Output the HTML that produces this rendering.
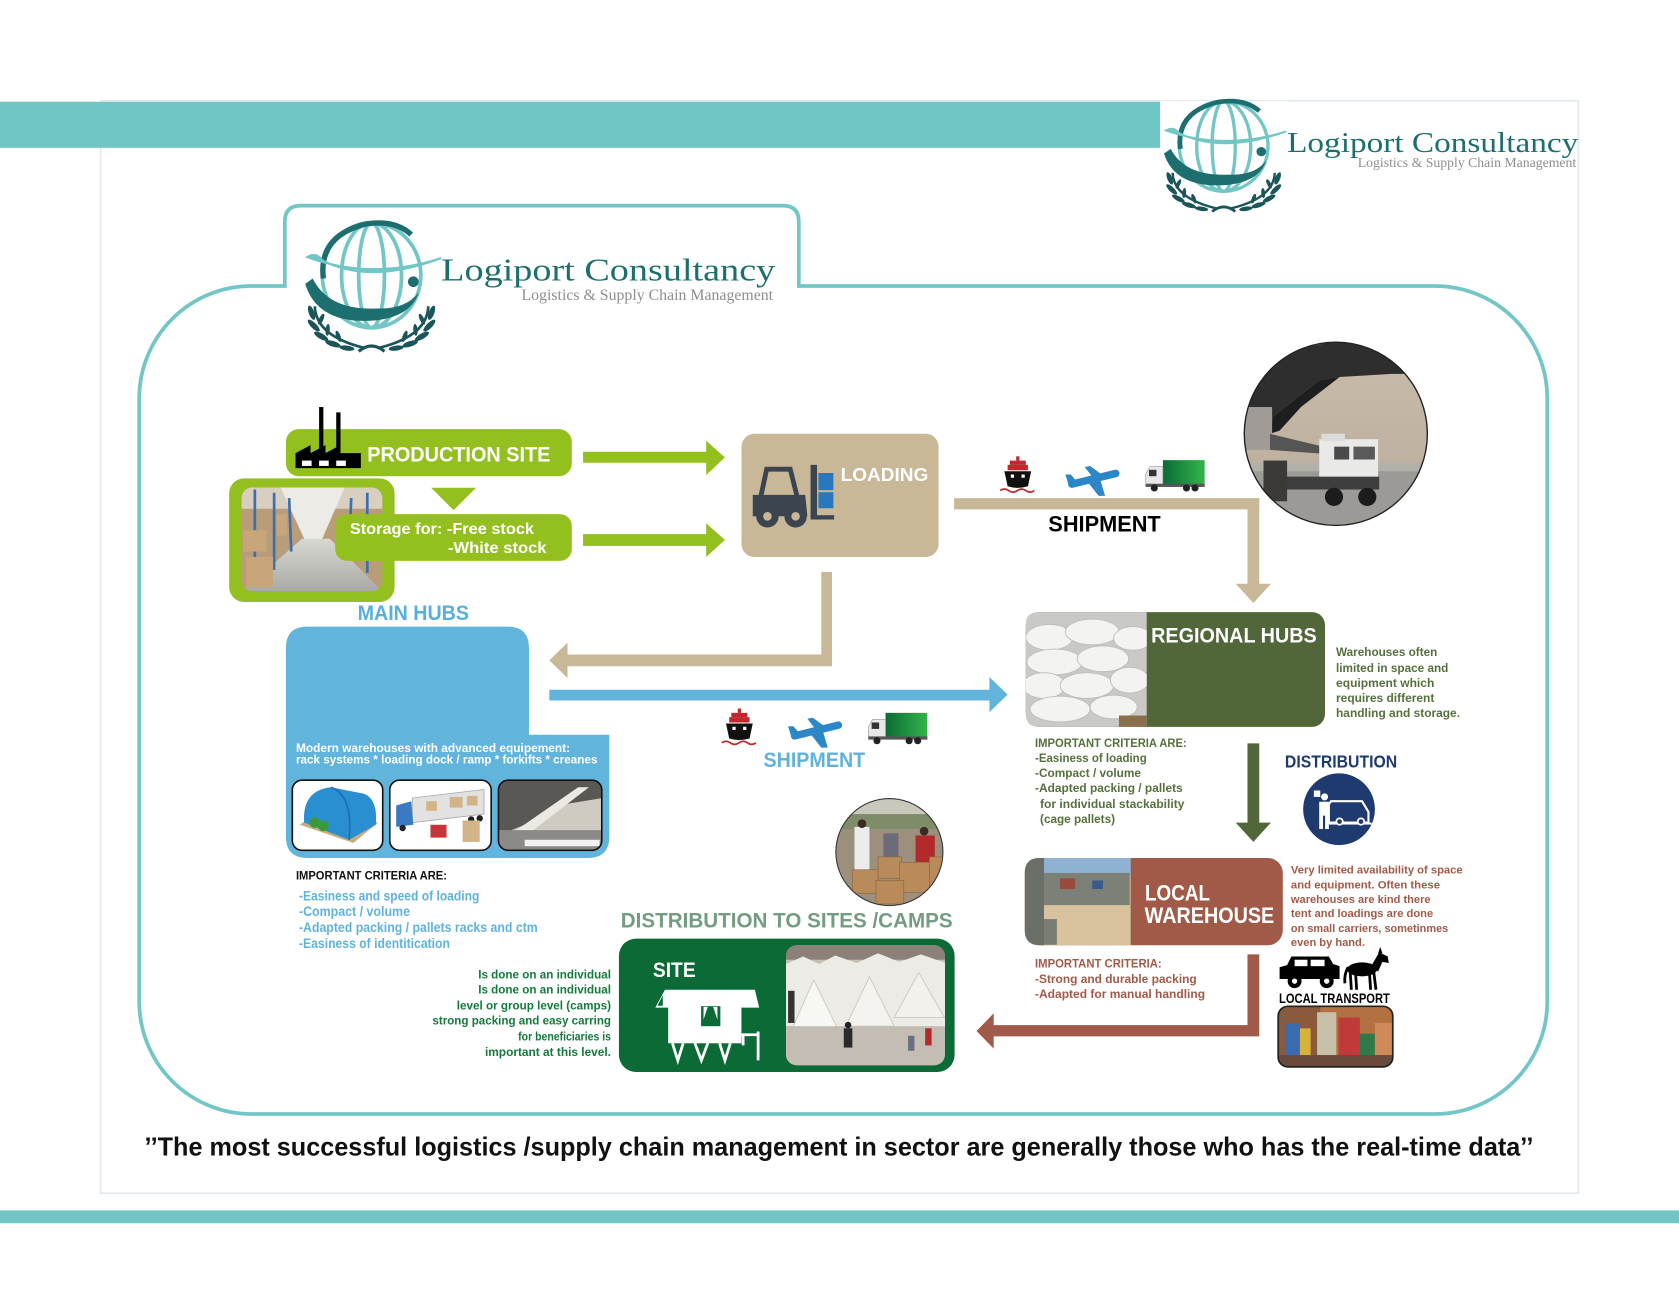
<!DOCTYPE html>
<html><head><meta charset="utf-8">
<style>
html,body{margin:0;padding:0;background:#fff;width:1679px;height:1295px;overflow:hidden}
svg{display:block}
text{font-family:"Liberation Sans",sans-serif;font-weight:bold}
text.serif{font-family:"Liberation Serif",serif;font-weight:normal}
</style></head><body>
<svg width="1679" height="1295" viewBox="0 0 1568 1209" preserveAspectRatio="none" xmlns="http://www.w3.org/2000/svg">
<defs>
 <clipPath id="cStore"><rect x="225.6" y="455" width="131.4" height="97" rx="10"/></clipPath>
 <clipPath id="cAir"><circle cx="1247.5" cy="405" r="85.5"/></clipPath>
 <clipPath id="cSacks"><path d="M970,571.5 L1071,571.5 L1071,678.6 L970,678.6 Q958,678.6 958,666.6 L958,583.5 Q958,571.5 970,571.5 Z"/></clipPath>
 <clipPath id="cLocal"><path d="M971,801 L1056,801 L1056,882.5 L971,882.5 Q957,882.5 957,868.5 L957,815 Q957,801 971,801 Z"/></clipPath>
 <clipPath id="cCamp"><rect x="734" y="882.5" width="148.5" height="112" rx="10"/></clipPath>
 <clipPath id="cDist"><circle cx="830.6" cy="795.5" r="50"/></clipPath>
 <clipPath id="cTrans"><rect x="1193.7" y="939.5" width="107" height="56.5" rx="9"/></clipPath>
 <clipPath id="cB3"><rect x="465.5" y="728.4" width="96.5" height="65.4" rx="9"/></clipPath>
 <linearGradient id="gTruck" x1="0" y1="0" x2="1" y2="0"><stop offset="0" stop-color="#0b6b35"/><stop offset="1" stop-color="#33b54a"/></linearGradient>
 <linearGradient id="gFloor" x1="0" y1="0" x2="0" y2="1"><stop offset="0" stop-color="#d8d8d2"/><stop offset="1" stop-color="#a9aaa5"/></linearGradient>
 <linearGradient id="gSky" x1="0" y1="0" x2="0" y2="1"><stop offset="0" stop-color="#c9bcab"/><stop offset="1" stop-color="#b9ab99"/></linearGradient>
</defs>

<!-- page frame -->
<rect x="94" y="94" width="1380" height="1020" fill="none" stroke="#dfe7ef" stroke-width="1.5"/>
<rect x="0" y="95" width="1092" height="43" fill="#71c5c5"/>
<rect x="0" y="1130" width="1568" height="12" fill="#71c5c5"/>

<!-- top right logo -->
<g transform="translate(1087,96) scale(0.9,0.86)">
 <rect x="-4" y="-2" width="134" height="120" fill="#fff"/>
 <g fill="none" stroke="#72c6c6" stroke-width="3.5">
  <ellipse cx="62" cy="47" rx="46" ry="49"/>
  <ellipse cx="62" cy="47" rx="28" ry="49"/>
  <ellipse cx="62" cy="47" rx="12" ry="49"/>
 </g>
 <path d="M17,50 Q12,10 57,-1 Q84,-5 99,9" fill="none" stroke="#1d6e6e" stroke-width="5"/>
 <path d="M2,30 Q10,25 16,33 Q60,56 127,31 Q62,52 2,30 Z" fill="#72c6c6" stroke="#72c6c6" stroke-width="2"/>
 <path d="M0,55 Q12,94 67,89 Q99,85 106,63 Q94,79 67,78 Q22,80 7,50 Z" fill="#1d6e6e"/>
 <circle cx="101" cy="53" r="5" fill="#1d6e6e"/>
 <g fill="#1a5559">
  <path d="M9,76 Q10,104 56,115" fill="none" stroke="#1a5559" stroke-width="2.5"/>
  <path d="M115,76 Q114,104 68,115" fill="none" stroke="#1a5559" stroke-width="2.5"/>
  <ellipse cx="6" cy="82" rx="2.6" ry="7" transform="rotate(-20 6 82)"/>
  <ellipse cx="8" cy="94" rx="2.6" ry="7.5" transform="rotate(-45 8 94)"/>
  <ellipse cx="15" cy="104" rx="2.6" ry="7.5" transform="rotate(-60 15 104)"/>
  <ellipse cx="26" cy="111" rx="2.6" ry="7.5" transform="rotate(-72 26 111)"/>
  <ellipse cx="39" cy="115" rx="2.4" ry="7" transform="rotate(-82 39 115)"/>
  <ellipse cx="15" cy="88" rx="2" ry="5.5" transform="rotate(25 15 88)"/>
  <ellipse cx="21" cy="98" rx="2" ry="5.5" transform="rotate(5 21 98)"/>
  <ellipse cx="31" cy="104" rx="2" ry="5.5" transform="rotate(-20 31 104)"/>
  <ellipse cx="118" cy="82" rx="2.6" ry="7" transform="rotate(20 118 82)"/>
  <ellipse cx="116" cy="94" rx="2.6" ry="7.5" transform="rotate(45 116 94)"/>
  <ellipse cx="109" cy="104" rx="2.6" ry="7.5" transform="rotate(60 109 104)"/>
  <ellipse cx="98" cy="111" rx="2.6" ry="7.5" transform="rotate(72 98 111)"/>
  <ellipse cx="85" cy="115" rx="2.4" ry="7" transform="rotate(82 85 115)"/>
  <ellipse cx="109" cy="88" rx="2" ry="5.5" transform="rotate(-25 109 88)"/>
  <ellipse cx="103" cy="98" rx="2" ry="5.5" transform="rotate(-5 103 98)"/>
  <ellipse cx="93" cy="104" rx="2" ry="5.5" transform="rotate(20 93 104)"/>
  <path d="M50,118 Q62,108 74,118" fill="none" stroke="#1a5559" stroke-width="3"/>
 </g>
</g>
<text class="serif" x="1202" y="142" font-size="27" fill="#1d6f6f" textLength="272" lengthAdjust="spacingAndGlyphs">Logiport Consultancy</text>
<text class="serif" x="1268" y="156" font-size="12.5" fill="#8e8e8e" textLength="204" lengthAdjust="spacingAndGlyphs">Logistics &amp; Supply Chain Management</text>

<!-- main container -->
<path d="M130,372 A105,105 0 0 1 235,267 L266,267 L266,207 Q266,192 281,192 L731,192 Q746,192 746,207 L746,267 L1340,267 A105,105 0 0 1 1445,372 L1445,935 A105,105 0 0 1 1340,1040 L235,1040 A105,105 0 0 1 130,935 Z" fill="#fff" stroke="#72c6c6" stroke-width="3.5"/>

<!-- inner logo -->
<g transform="translate(285,210)">
 <g fill="none" stroke="#72c6c6" stroke-width="3.5">
  <ellipse cx="62" cy="47" rx="46" ry="49"/>
  <ellipse cx="62" cy="47" rx="28" ry="49"/>
  <ellipse cx="62" cy="47" rx="12" ry="49"/>
 </g>
 <path d="M17,50 Q12,10 57,-1 Q84,-5 99,9" fill="none" stroke="#1d6e6e" stroke-width="5"/>
 <path d="M2,30 Q10,25 16,33 Q60,56 127,31 Q62,52 2,30 Z" fill="#72c6c6" stroke="#72c6c6" stroke-width="2"/>
 <path d="M0,55 Q12,94 67,89 Q99,85 106,63 Q94,79 67,78 Q22,80 7,50 Z" fill="#1d6e6e"/>
 <circle cx="101" cy="53" r="5" fill="#1d6e6e"/>
 <g fill="#1a5559">
  <path d="M9,76 Q10,104 56,115" fill="none" stroke="#1a5559" stroke-width="2.5"/>
  <path d="M115,76 Q114,104 68,115" fill="none" stroke="#1a5559" stroke-width="2.5"/>
  <ellipse cx="6" cy="82" rx="2.6" ry="7" transform="rotate(-20 6 82)"/>
  <ellipse cx="8" cy="94" rx="2.6" ry="7.5" transform="rotate(-45 8 94)"/>
  <ellipse cx="15" cy="104" rx="2.6" ry="7.5" transform="rotate(-60 15 104)"/>
  <ellipse cx="26" cy="111" rx="2.6" ry="7.5" transform="rotate(-72 26 111)"/>
  <ellipse cx="39" cy="115" rx="2.4" ry="7" transform="rotate(-82 39 115)"/>
  <ellipse cx="15" cy="88" rx="2" ry="5.5" transform="rotate(25 15 88)"/>
  <ellipse cx="21" cy="98" rx="2" ry="5.5" transform="rotate(5 21 98)"/>
  <ellipse cx="31" cy="104" rx="2" ry="5.5" transform="rotate(-20 31 104)"/>
  <ellipse cx="118" cy="82" rx="2.6" ry="7" transform="rotate(20 118 82)"/>
  <ellipse cx="116" cy="94" rx="2.6" ry="7.5" transform="rotate(45 116 94)"/>
  <ellipse cx="109" cy="104" rx="2.6" ry="7.5" transform="rotate(60 109 104)"/>
  <ellipse cx="98" cy="111" rx="2.6" ry="7.5" transform="rotate(72 98 111)"/>
  <ellipse cx="85" cy="115" rx="2.4" ry="7" transform="rotate(82 85 115)"/>
  <ellipse cx="109" cy="88" rx="2" ry="5.5" transform="rotate(-25 109 88)"/>
  <ellipse cx="103" cy="98" rx="2" ry="5.5" transform="rotate(-5 103 98)"/>
  <ellipse cx="93" cy="104" rx="2" ry="5.5" transform="rotate(20 93 104)"/>
  <path d="M50,118 Q62,108 74,118" fill="none" stroke="#1a5559" stroke-width="3"/>
 </g>
</g>
<text class="serif" x="412" y="262" font-size="30" fill="#1d6f6f" textLength="312" lengthAdjust="spacingAndGlyphs">Logiport Consultancy</text>
<text class="serif" x="487" y="280" font-size="14.5" fill="#8e8e8e" textLength="235" lengthAdjust="spacingAndGlyphs">Logistics &amp; Supply Chain Management</text>

<!-- PRODUCTION SITE -->
<rect x="267" y="400.6" width="267" height="44" rx="12" fill="#93c01f"/>
<g fill="#000">
 <rect x="298" y="380" width="4" height="40"/>
 <rect x="314" y="385" width="4" height="35"/>
 <path d="M276,437 L276,423 L290,415.6 L290,423 L304,415.6 L304,423 L318,415.6 L318,423 L337,423 L337,437 Z"/>
</g>
<g fill="#fff"><rect x="282" y="430" width="9" height="5"/><rect x="298" y="430" width="9" height="5"/><rect x="314" y="430" width="9" height="5"/></g>
<text x="343" y="431" font-size="19.5" fill="#fff" textLength="171" lengthAdjust="spacingAndGlyphs">PRODUCTION SITE</text>
<polygon points="402.6,455.4 444.6,455.4 423.6,476.3" fill="#93c01f"/>

<!-- storage photo -->
<rect x="214" y="446.6" width="154.5" height="115.4" rx="14" fill="#93c01f"/>
<g clip-path="url(#cStore)">
 <rect x="225" y="455" width="133" height="98" fill="#b99c78"/>
 <rect x="225" y="455" width="133" height="20" fill="#d9cfc0"/>
 <polygon points="262,455 322,455 300,505 285,505" fill="#ecebe6"/>
 <polygon points="226,552 357,552 308,503 282,503" fill="url(#gFloor)"/>
 <g stroke="#3a6fb0" stroke-width="2.5"><line x1="238" y1="457" x2="238" y2="545"/><line x1="256" y1="460" x2="256" y2="532"/><line x1="270" y1="465" x2="272" y2="515"/><line x1="328" y1="465" x2="326" y2="515"/><line x1="343" y1="460" x2="343" y2="535"/></g>
 <g fill="#c8a679"><rect x="227" y="495" width="22" height="20"/><rect x="230" y="520" width="25" height="28"/><rect x="258" y="480" width="10" height="20"/><rect x="332" y="485" width="12" height="22"/></g>
</g>
<rect x="313" y="480" width="221" height="43.6" rx="11" fill="#93c01f"/>
<text x="326.7" y="498.7" font-size="15" fill="#fff" textLength="172" lengthAdjust="spacingAndGlyphs">Storage for: -Free stock</text>
<text x="418.4" y="516.5" font-size="15" fill="#fff" textLength="92" lengthAdjust="spacingAndGlyphs">-White stock</text>

<!-- green arrows -->
<polygon points="544.5,421.8 659.5,421.8 659.5,411.5 677,427 659.5,443.6 659.5,432 544.5,432" fill="#93c01f"/>
<polygon points="544.5,498.7 659.5,498.7 659.5,488.5 677,504 659.5,520 659.5,509.6 544.5,509.6" fill="#93c01f"/>

<!-- LOADING -->
<rect x="692.5" y="405" width="184" height="115" rx="12" fill="#c8b898"/>
<g fill="#3c4450">
 <path d="M710,466 L716,438 L738,438 L745,466" fill="none" stroke="#3c4450" stroke-width="4.5"/>
 <path d="M703,462 L752,462 L754,482 L703,482 Z"/>
 <rect x="757" y="434" width="6" height="50"/>
 <rect x="757" y="481" width="22" height="4"/>
 <circle cx="716.7" cy="482" r="10.5"/><circle cx="743" cy="482" r="10.5"/>
</g>
<circle cx="716.7" cy="482" r="4" fill="#c8b898"/><circle cx="743" cy="482" r="4" fill="#c8b898"/>
<rect x="764.3" y="441.6" width="14" height="16" fill="#2878c0"/>
<rect x="764.3" y="459.5" width="14" height="15" fill="#2878c0"/>
<text x="785" y="449.2" font-size="17.5" fill="#fff" textLength="82" lengthAdjust="spacingAndGlyphs">LOADING</text>

<!-- shipment (tan) arrow -->
<path d="M891,465 L1176,465 L1176,545 L1187,545 L1170.5,563 L1154,545 L1165,545 L1165,475.5 L891,475.5 Z" fill="#c8b898"/>
<!-- ship 1 -->
<g transform="translate(934,426)">
 <rect x="15" y="0" width="3" height="4" fill="#c1272d"/>
 <rect x="9" y="4" width="15" height="4" fill="#c1272d"/>
 <rect x="7" y="8" width="19" height="5" fill="#c1272d"/>
 <path d="M4,14 L29,14 L26,28 Q16,31 7,28 Z" fill="#111"/>
 <rect x="10" y="17" width="3" height="3" fill="#fff"/><rect x="20" y="17" width="3" height="3" fill="#fff"/>
 <path d="M0,32 q4,-3 8,0 q4,3 8,0 q4,-3 8,0 q4,3 8,0" fill="none" stroke="#c1272d" stroke-width="1.6"/>
</g>
<!-- plane 1 -->
<g transform="translate(995,435)" fill="#2b87c8">
 <line x1="6" y1="17" x2="47" y2="7" stroke="#2b87c8" stroke-width="7" stroke-linecap="round"/>
 <polygon points="20,14 31,28 37,28 32,11"/>
 <polygon points="25,10 18,1 23,0 34,8"/>
 <polygon points="3,18 0,8 5,8 11,15"/>
</g>
<!-- truck 1 -->
<g transform="translate(1070,429.6)">
 <rect x="16" y="0" width="39" height="24" fill="url(#gTruck)"/>
 <path d="M0,13 L4,6 L16,6 L16,24 L0,24 Z" fill="#e8e8e8" stroke="#999" stroke-width="0.6"/>
 <rect x="3" y="9" width="7" height="6" fill="#333"/>
 <rect x="0" y="22" width="55" height="3" fill="#555"/>
 <circle cx="8" cy="26" r="3.3" fill="#222"/><circle cx="38" cy="26" r="3.3" fill="#222"/><circle cx="46" cy="26" r="3.3" fill="#222"/>
</g>
<text x="979" y="496" font-size="21" fill="#000" textLength="105" lengthAdjust="spacingAndGlyphs">SHIPMENT</text>

<!-- airplane circle photo -->
<g clip-path="url(#cAir)">
 <rect x="1160" y="318" width="175" height="175" fill="url(#gSky)"/>
 <polygon points="1160,376 1176,345 1204,327 1251,318 1335,318 1335,349 1300,349 1251,352 1232,355 1189,389 1186,405 1160,410" fill="#2e2e2e"/>
 <polygon points="1186,405 1189,389 1232,355 1251,352 1215,380 1195,402" fill="#1e1e1e"/>
 <rect x="1162" y="380" width="26" height="40" fill="#a09c95"/>
 <polygon points="1186,405 1240,418 1240,424 1186,420" fill="#555"/>
 <rect x="1160" y="437" width="175" height="60" fill="#9c9a96"/>
 <rect x="1160" y="432" width="175" height="8" fill="#b3b0aa"/>
 <rect x="1232" y="410" width="55" height="45" fill="#e9e9e7"/>
 <rect x="1234" y="405" width="22" height="7" fill="#dcdcda"/>
 <rect x="1246" y="417" width="14" height="12" fill="#4a4a4a"/>
 <rect x="1264" y="417" width="20" height="12" fill="#5a5a5a"/>
 <rect x="1180" y="445" width="108" height="12" fill="#3e3e3e"/>
 <circle cx="1245.8" cy="463.9" r="8.5" fill="#1c1c1c"/><circle cx="1276.9" cy="463.9" r="8.5" fill="#1c1c1c"/>
 <rect x="1180" y="430" width="22" height="38" fill="#3b3a36"/>
</g>
<circle cx="1247.5" cy="405" r="85.5" fill="none" stroke="#222" stroke-width="1.3"/>

<!-- tan arrow to main hubs -->
<path d="M767,534 L777,534 L777,622 L530,622 L530,633 L513,616.5 L530,600 L530,611 L767,611 Z" fill="#c8b898"/>
<!-- blue arrow -->
<path d="M513,644 L924,644 L924,632 L941,648.5 L924,665 L924,654 L513,654 Z" fill="#61b4dc"/>

<!-- MAIN HUBS -->
<text x="334" y="579" font-size="19.5" fill="#56afdc" textLength="104" lengthAdjust="spacingAndGlyphs">MAIN HUBS</text>
<path d="M287,585 L474,585 Q494,585 494,605 L494,686 L569,686 L569,781 Q569,801 549,801 L287,801 Q267,801 267,781 L267,605 Q267,585 287,585 Z" fill="#61b4dc"/>
<text x="276.4" y="702" font-size="11.5" fill="#fff" textLength="256" lengthAdjust="spacingAndGlyphs">Modern warehouses with advanced equipement:</text>
<text x="276.4" y="712.9" font-size="11.5" fill="#fff" textLength="281.5" lengthAdjust="spacingAndGlyphs">rack systems * loading dock / ramp * forkifts * creanes</text>
<!-- box1 -->
<rect x="273" y="728.4" width="84.4" height="65.4" rx="9" fill="#fff" stroke="#111" stroke-width="1.5"/>
<polygon points="280,770 330,787 353,768 305,752" fill="#c7ad7d"/>
<path d="M284,768 Q282,738 309,735 L340,741 Q353,746 351,770 L326,784 Z" fill="#2a8fd0"/>
<path d="M309,735 Q330,742 326,784" fill="none" stroke="#1b6fae" stroke-width="1.5"/>
<circle cx="294" cy="768" r="5" fill="#3a9a3a"/><circle cx="302" cy="771" r="5" fill="#3a9a3a"/>
<!-- box2 -->
<rect x="364" y="728.4" width="94.7" height="65.4" rx="9" fill="#fff" stroke="#111" stroke-width="1.5"/>
<polygon points="385,745 452,737 452,760 385,768" fill="#e2e2e2" stroke="#aaa" stroke-width="0.8"/>
<rect x="398" y="748" width="10" height="9" fill="#d2b488"/><rect x="420" y="744" width="12" height="10" fill="#d2b488"/><rect x="436" y="743" width="10" height="9" fill="#d2b488"/>
<path d="M370,752 L384,748 L386,770 L370,772 Z" fill="#3a7ac0"/>
<circle cx="376" cy="773" r="3" fill="#222"/><circle cx="440" cy="765" r="3" fill="#222"/><circle cx="448" cy="764" r="3" fill="#222"/>
<rect x="402" y="770" width="15" height="12" fill="#c8333a"/>
<rect x="432" y="766" width="16" height="20" fill="#d2b488"/>
<!-- box3 -->
<g clip-path="url(#cB3)">
 <rect x="465" y="728" width="98" height="66" fill="#cfcbc3"/>
 <polygon points="465,728 563,728 563,745 520,752 490,770 465,780" fill="#5a5855"/>
 <polygon points="475,780 540,735 550,735 485,785" fill="#ece9e2"/>
 <rect x="465" y="775" width="98" height="19" fill="#8c8a86"/>
 <rect x="490" y="784" width="70" height="6" fill="#f2f2f2"/>
</g>
<rect x="465.5" y="728.4" width="96.5" height="65.4" rx="9" fill="none" stroke="#111" stroke-width="1.5"/>

<text x="276.4" y="821" font-size="11.5" fill="#111" textLength="141" lengthAdjust="spacingAndGlyphs">IMPORTANT CRITERIA ARE:</text>
<g font-size="12.5" fill="#5fb3db">
 <text x="279.2" y="840.5" textLength="168.5" lengthAdjust="spacingAndGlyphs">-Easiness and speed of loading</text>
 <text x="279.2" y="855.4" textLength="103.7" lengthAdjust="spacingAndGlyphs">-Compact / volume</text>
 <text x="279.2" y="870" textLength="223" lengthAdjust="spacingAndGlyphs">-Adapted packing / pallets racks and ctm</text>
 <text x="279.2" y="885" textLength="141" lengthAdjust="spacingAndGlyphs">-Easiness of identitication</text>
</g>

<!-- blue shipment icons -->
<g transform="translate(674,661.5)">
 <rect x="15" y="0" width="3" height="4" fill="#c1272d"/>
 <rect x="9" y="4" width="15" height="4" fill="#c1272d"/>
 <rect x="7" y="8" width="19" height="5" fill="#c1272d"/>
 <path d="M4,14 L29,14 L26,28 Q16,31 7,28 Z" fill="#111"/>
 <rect x="10" y="17" width="3" height="3" fill="#fff"/><rect x="20" y="17" width="3" height="3" fill="#fff"/>
 <path d="M0,32 q4,-3 8,0 q4,3 8,0 q4,-3 8,0 q4,3 8,0" fill="none" stroke="#c1272d" stroke-width="1.6"/>
</g>
<g transform="translate(736,670)" fill="#2b87c8">
 <line x1="6" y1="17" x2="47" y2="7" stroke="#2b87c8" stroke-width="7" stroke-linecap="round"/>
 <polygon points="20,14 31,28 37,28 32,11"/>
 <polygon points="25,10 18,1 23,0 34,8"/>
 <polygon points="3,18 0,8 5,8 11,15"/>
</g>
<g transform="translate(811,665.5)">
 <rect x="16" y="0" width="39" height="24" fill="url(#gTruck)"/>
 <path d="M0,13 L4,6 L16,6 L16,24 L0,24 Z" fill="#e8e8e8" stroke="#999" stroke-width="0.6"/>
 <rect x="3" y="9" width="7" height="6" fill="#333"/>
 <rect x="0" y="22" width="55" height="3" fill="#555"/>
 <circle cx="8" cy="26" r="3.3" fill="#222"/><circle cx="38" cy="26" r="3.3" fill="#222"/><circle cx="46" cy="26" r="3.3" fill="#222"/>
</g>
<text x="713" y="716" font-size="19.5" fill="#5fb3db" textLength="95" lengthAdjust="spacingAndGlyphs">SHIPMENT</text>

<!-- distribution circle photo -->
<g clip-path="url(#cDist)">
 <rect x="780" y="745" width="102" height="102" fill="#9c907d"/>
 <rect x="780" y="745" width="102" height="22" fill="#c8c8bc"/>
 <rect x="780" y="760" width="102" height="14" fill="#7f8c6a"/>
 <rect x="798" y="772" width="14" height="45" fill="#ececec"/>
 <circle cx="805" cy="769" r="4" fill="#3a2a22"/>
 <rect x="855" y="780" width="18" height="25" fill="#b22a2a"/>
 <circle cx="863" cy="776" r="4" fill="#3a2a22"/>
 <rect x="825" y="778" width="14" height="22" fill="#6b6b7a"/>
 <g fill="#b98a5a" stroke="#8a6540" stroke-width="0.6">
  <rect x="796" y="812" width="24" height="22"/><rect x="820" y="800" width="22" height="20"/><rect x="840" y="805" width="28" height="28"/><rect x="818" y="822" width="26" height="22"/><rect x="868" y="800" width="14" height="30"/>
 </g>
</g>
<circle cx="830.6" cy="795.5" r="50" fill="none" stroke="#333" stroke-width="1"/>

<!-- DISTRIBUTION TO SITES / CAMPS -->
<text x="579.7" y="866" font-size="19.5" fill="#739c82" textLength="310" lengthAdjust="spacingAndGlyphs">DISTRIBUTION TO SITES /CAMPS</text>
<rect x="578" y="876.3" width="313.5" height="124.5" rx="16" fill="#0b6a35"/>
<text x="609.7" y="912" font-size="19.5" fill="#fff" textLength="40" lengthAdjust="spacingAndGlyphs">SITE</text>
<g fill="#fff">
 <polygon points="612,940.7 621,924 705,924 709,940.7"/>
 <rect x="624" y="940" width="68.4" height="34"/>
</g>
<polygon points="614,939 619,929 619,939" fill="#0b6a35"/>
<rect x="654" y="938.6" width="19.5" height="20.2" fill="#0b6a35" stroke="#fff" stroke-width="1.5"/>
<polygon points="657,940 661,940 657,952" fill="#fff"/><polygon points="670,940 666,940 670,952" fill="#fff"/>
<g stroke="#fff" stroke-width="2.6" fill="none">
 <path d="M628,974 L633,990 L638,974"/>
 <path d="M649,974 L655,990 L661,974"/>
 <path d="M672,974 L677,990 L682,974"/>
 <path d="M692,966 L709,966 M708,963 L708,990 M694,966 L694,976"/>
</g>
<g clip-path="url(#cCamp)">
 <rect x="734" y="882" width="149" height="113" fill="#c7bfb4"/>
 <rect x="734" y="882" width="149" height="14" fill="#8c8179"/>
 <path d="M734,900 L750,893 L765,900 L780,892 L800,899 L820,890 L840,898 L860,891 L883,899 L883,960 L734,962 Z" fill="#ecebe6"/>
 <polygon points="740,960 760,915 782,960" fill="#f7f7f4" stroke="#c9c6be" stroke-width="0.8"/>
 <polygon points="790,958 812,912 835,958" fill="#f4f3ef" stroke="#c9c6be" stroke-width="0.8"/>
 <polygon points="835,950 858,908 882,950" fill="#f2f1ec" stroke="#c9c6be" stroke-width="0.8"/>
 <rect x="734" y="958" width="149" height="37" fill="#c4bdb3"/>
 <rect x="788" y="960" width="8" height="18" fill="#2a2a2a"/><circle cx="792" cy="957" r="3" fill="#222"/>
 <rect x="848" y="967" width="6" height="14" fill="#6b7080"/>
 <rect x="864" y="960" width="6" height="16" fill="#b22a2a"/>
 <rect x="736" y="925" width="6" height="30" fill="#333"/>
</g>
<g font-size="11.5" fill="#137a3c" text-anchor="end">
 <text x="570.6" y="913.7" textLength="124" lengthAdjust="spacingAndGlyphs">Is done on an individual</text>
 <text x="570.6" y="927.7" textLength="124" lengthAdjust="spacingAndGlyphs">Is done on an individual</text>
 <text x="570.6" y="942.6" textLength="144" lengthAdjust="spacingAndGlyphs">level or group level (camps)</text>
 <text x="570.6" y="956.6" textLength="166.8" lengthAdjust="spacingAndGlyphs">strong packing and easy carring</text>
 <text x="570.6" y="971.2" textLength="86.7" lengthAdjust="spacingAndGlyphs">for beneficiaries is</text>
 <text x="570.6" y="985.9" textLength="117.7" lengthAdjust="spacingAndGlyphs">important at this level.</text>
</g>

<!-- REGIONAL HUBS -->
<rect x="958" y="571.5" width="279.4" height="107.1" rx="12" fill="#51673a"/>
<g clip-path="url(#cSacks)">
 <rect x="956" y="570" width="116" height="110" fill="#c9c9c5"/>
 <g fill="#f3f3f1" stroke="#bdbdb8" stroke-width="0.8">
  <ellipse cx="980" cy="595" rx="22" ry="12"/><ellipse cx="1020" cy="590" rx="25" ry="12"/><ellipse cx="1058" cy="596" rx="18" ry="11"/>
  <ellipse cx="985" cy="618" rx="26" ry="12"/><ellipse cx="1030" cy="615" rx="24" ry="12"/>
  <ellipse cx="975" cy="640" rx="20" ry="12"/><ellipse cx="1015" cy="640" rx="25" ry="12"/><ellipse cx="1055" cy="635" rx="18" ry="12"/>
  <ellipse cx="990" cy="662" rx="28" ry="12"/><ellipse cx="1040" cy="660" rx="22" ry="11"/>
 </g>
 <rect x="1045" y="668" width="26" height="11" fill="#8a6f4f"/>
</g>
<text x="1075" y="600" font-size="19.5" fill="#fff" textLength="154.7" lengthAdjust="spacingAndGlyphs">REGIONAL HUBS</text>
<g font-size="11" fill="#56703c">
 <text x="1247.7" y="612.6" textLength="94.6" lengthAdjust="spacingAndGlyphs">Warehouses often</text>
 <text x="1247.7" y="627.3" textLength="104.9" lengthAdjust="spacingAndGlyphs">limited in space and</text>
 <text x="1247.7" y="641.3" textLength="91.8" lengthAdjust="spacingAndGlyphs">equipment which</text>
 <text x="1247.7" y="655.3" textLength="91.8" lengthAdjust="spacingAndGlyphs">requires different</text>
 <text x="1247.7" y="669.3" textLength="115.8" lengthAdjust="spacingAndGlyphs">handling and storage.</text>
</g>
<g font-size="11.5" fill="#56703c">
 <text x="966.6" y="697.5" textLength="141.7" lengthAdjust="spacingAndGlyphs">IMPORTANT CRITERIA ARE:</text>
 <text x="966.6" y="711.6" textLength="104.3" lengthAdjust="spacingAndGlyphs">-Easiness of loading</text>
 <text x="966.6" y="725.6" textLength="99" lengthAdjust="spacingAndGlyphs">-Compact / volume</text>
 <text x="966.6" y="739.6" textLength="137.9" lengthAdjust="spacingAndGlyphs">-Adapted packing / pallets</text>
 <text x="971.3" y="754.3" textLength="134.8" lengthAdjust="spacingAndGlyphs">for individual stackability</text>
 <text x="971.3" y="768.5" textLength="70" lengthAdjust="spacingAndGlyphs">(cage pallets)</text>
</g>
<!-- green down arrow -->
<path d="M1165,694 L1176,694 L1176,768 L1187,768 L1170.5,786 L1154,768 L1165,768 Z" fill="#51673a"/>

<!-- DISTRIBUTION -->
<text x="1200" y="716.6" font-size="16" fill="#1e3a6e" textLength="104.8" lengthAdjust="spacingAndGlyphs">DISTRIBUTION</text>
<circle cx="1250.5" cy="755.5" r="33.5" fill="#1e3a6e"/>
<g fill="#fff">
 <circle cx="1237" cy="744" r="3.3"/>
 <rect x="1227" y="738" width="6" height="6"/>
 <rect x="1232" y="748.5" width="9" height="13"/>
 <rect x="1232" y="761" width="3.5" height="13"/><rect x="1237.5" y="761" width="3.5" height="13"/>
 <path d="M1241,751 L1241,768 L1278,768 L1278,758 L1272,748 L1243,748 Z" fill="none" stroke="#fff" stroke-width="2"/>
 <rect x="1241" y="768" width="40" height="1.8"/>
</g>
<circle cx="1251" cy="767" r="3" fill="#1e3a6e" stroke="#fff" stroke-width="1.6"/>
<circle cx="1271" cy="767" r="3" fill="#1e3a6e" stroke="#fff" stroke-width="1.6"/>

<!-- LOCAL WAREHOUSE -->
<rect x="957" y="801" width="241" height="81.5" rx="14" fill="#a15a48"/>
<g clip-path="url(#cLocal)">
 <rect x="955" y="800" width="102" height="84" fill="#d8c39e"/>
 <rect x="955" y="800" width="102" height="18" fill="#8fb2d2"/>
 <rect x="975" y="815" width="80" height="30" fill="#7d8077"/>
 <rect x="990" y="820" width="14" height="10" fill="#9a4a3a"/>
 <rect x="1020" y="822" width="10" height="8" fill="#3a5a8a"/>
 <rect x="955" y="800" width="20" height="84" fill="#6a7068"/>
 <rect x="975" y="858" width="12" height="24" fill="#7a7d73"/>
</g>
<text x="1069.3" y="840.5" font-size="20.5" fill="#fff" textLength="60.7" lengthAdjust="spacingAndGlyphs">LOCAL</text>
<text x="1069" y="861.7" font-size="20.5" fill="#fff" textLength="121" lengthAdjust="spacingAndGlyphs">WAREHOUSE</text>
<g font-size="10.5" fill="#a15a48">
 <text x="1205.6" y="815.6" textLength="160.3" lengthAdjust="spacingAndGlyphs">Very limited availability of space</text>
 <text x="1205.6" y="829.6" textLength="139.2" lengthAdjust="spacingAndGlyphs">and equipment. Often these</text>
 <text x="1205.6" y="843" textLength="130.4" lengthAdjust="spacingAndGlyphs">warehouses are kind there</text>
 <text x="1205.6" y="856.2" textLength="132.9" lengthAdjust="spacingAndGlyphs">tent and loadings are done</text>
 <text x="1205.6" y="870" textLength="146.9" lengthAdjust="spacingAndGlyphs">on small carriers, sometinmes</text>
 <text x="1205.6" y="883" textLength="69.1" lengthAdjust="spacingAndGlyphs">even by hand.</text>
</g>
<g font-size="11.5" fill="#a15a48">
 <text x="966.6" y="903.4" textLength="118.3" lengthAdjust="spacingAndGlyphs">IMPORTANT CRITERIA:</text>
 <text x="966.6" y="917.7" textLength="151" lengthAdjust="spacingAndGlyphs">-Strong and durable packing</text>
 <text x="966.6" y="931.7" textLength="158.8" lengthAdjust="spacingAndGlyphs">-Adapted for manual handling</text>
</g>
<!-- brown arrow -->
<path d="M1165,891 L1176,891 L1176,967.5 L928,967.5 L928,979 L912,962.5 L928,946 L928,957 L1165,957 Z" fill="#a15a48"/>

<!-- local transport -->
<path d="M1195,914 L1195,903 L1202,901 L1206,893 L1241,893 L1245,900 L1251,902 L1251,914 Z" fill="#000"/>
<rect x="1209" y="896" width="12" height="6" fill="#fff"/><rect x="1224" y="896" width="13" height="6" fill="#fff"/>
<circle cx="1209" cy="916" r="6.5" fill="#000"/><circle cx="1239" cy="916" r="6.5" fill="#000"/>
<circle cx="1209" cy="916" r="2.5" fill="#fff"/><circle cx="1239" cy="916" r="2.5" fill="#fff"/>
<g fill="#000">
 <ellipse cx="1272" cy="905" rx="14" ry="6.5"/>
 <polygon points="1280,903 1288,889 1296,893 1297,899 1291,898 1287,907"/>
 <polygon points="1287,890 1289,884 1291,890"/>
</g>
<g stroke="#000" stroke-width="2.6" fill="none">
 <path d="M1261,908 L1262,924 M1266,909 L1267,924 M1279,909 L1280,924 M1283,908 L1285,924"/>
 <path d="M1259,903 Q1255,910 1256,918"/>
</g>
<text x="1194.5" y="936.4" font-size="13" fill="#000" textLength="103.5" lengthAdjust="spacingAndGlyphs">LOCAL TRANSPORT</text>
<g clip-path="url(#cTrans)">
 <rect x="1193" y="939" width="108" height="58" fill="#b37040"/>
 <rect x="1193" y="939" width="40" height="58" fill="#8a5a3a"/>
 <rect x="1200" y="955" width="14" height="40" fill="#3a6ab0"/>
 <rect x="1214" y="960" width="10" height="35" fill="#d6b23a"/>
 <rect x="1230" y="945" width="18" height="50" fill="#c8c0a8"/>
 <rect x="1250" y="950" width="20" height="45" fill="#c03a3a"/>
 <rect x="1270" y="965" width="14" height="30" fill="#2f7a4a"/>
 <rect x="1284" y="955" width="17" height="40" fill="#d08a5a"/>
 <rect x="1193" y="985" width="108" height="12" fill="#6a4a3a"/>
</g>
<rect x="1193.7" y="939.5" width="107" height="56.5" rx="9" fill="none" stroke="#222" stroke-width="1.6"/>

<!-- quote -->
<text x="135" y="1078.6" font-size="24" fill="#111" textLength="1297" lengthAdjust="spacingAndGlyphs">’’The most successful logistics /supply chain management in sector are generally those who has the real-time data’’</text>
</svg>
</body></html>
